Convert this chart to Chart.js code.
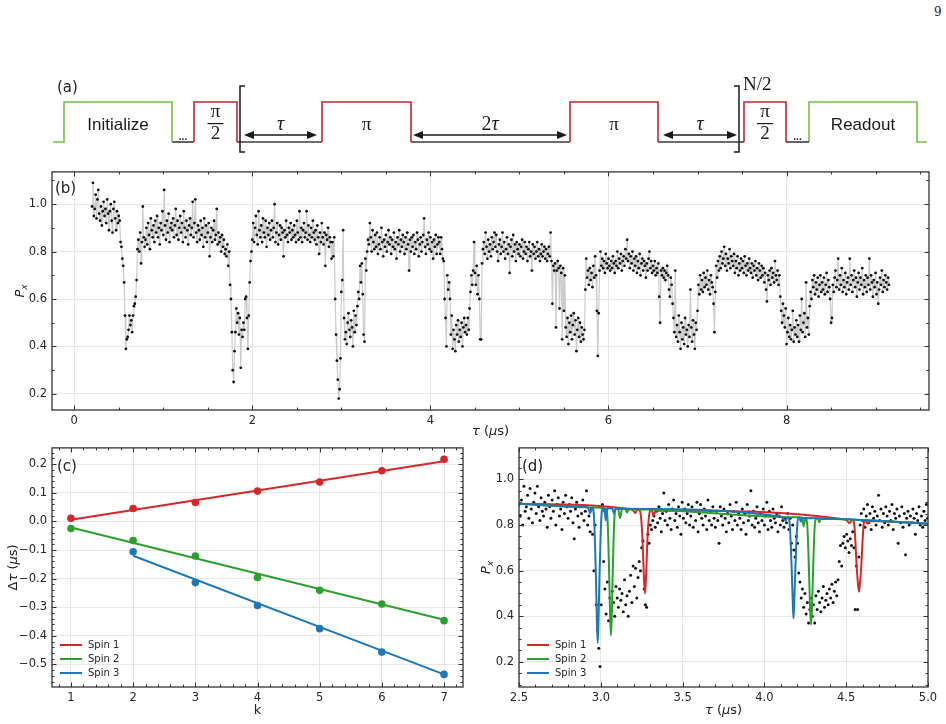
<!DOCTYPE html>
<html>
<head>
<meta charset="utf-8">
<script src="https://cdn.jsdelivr.net/npm/chart.js@4.4.1/dist/chart.umd.min.js"></script>
<style>
  body { margin: 0; background: #fff; width: 946px; height: 724px; position: relative; overflow: hidden; }
  canvas { position: absolute; }
  #pg { position: absolute; left: 934px; top: 5px; font: 12px "DejaVu Serif", serif; color: #222; }
</style>
</head>
<body>
<div id="pg">9</div>
<canvas id="seq" width="946" height="90" style="left:0;top:70px"></canvas>
<canvas id="scan" width="946" height="280" style="left:0;top:160px"></canvas>
<canvas id="shift" width="480" height="288" style="left:0;top:436px"></canvas>
<canvas id="zoomd" width="466" height="288" style="left:480px;top:436px"></canvas>
<script>
'use strict';

// (a) pulse sequence, times in the diagram's own units
var pulseNames = ['Initialize', 'π/2', 'π', 'π', 'π/2', 'Readout'];
var pulseOn = [64, 194, 322, 570, 744, 809];
var pulseOff = [172, 237, 411, 658, 786, 917];
var pulseLaser = [true, false, false, false, false, true];
var seqStart = 53, seqEnd = 927;
var gapDots = [0, 4];            // "..." after these pulses
var arrowFrom = [244, 413, 663];
var arrowTo = [317, 567, 737];
var arrowText = ['τ', '2τ', 'τ'];
var bracketAt = [240, 739];

// (b) P_x vs tau, sampled every scanStep from scanStart (values in %)
var scanStart = 0.2, scanStep = 0.01;
var scanPx = [
  99,109,95,98,104,94,102,106,96,93,99,91,97,101,95,98,92,102,96,89,
  97,100,93,88,98,101,94,89,97,92,95,93,84,82,77,74,67,53,39,43,
  44,47,53,49,51,46,53,57,58,61,68,81,85,80,88,75,84,99,86,82,
  85,90,83,92,87,81,94,89,86,91,84,93,88,95,86,90,83,92,89,97,
  87,106,91,85,93,88,96,84,90,92,89,94,86,91,98,87,93,85,90,95,
  88,92,84,97,90,86,93,89,83,91,94,87,90,101,86,92,102,88,84,91,
  89,85,93,87,90,82,94,86,91,84,88,92,78,86,90,84,89,93,85,87,
  98,83,88,84,86,80,87,82,85,79,81,78,83,74,80,66,60,46,30,25,
  38,46,56,50,54,45,52,31,47,44,50,47,60,61,52,39,53,67,76,80,
  85,92,84,90,95,87,83,97,89,86,91,84,94,88,86,93,82,90,87,92,
  85,89,93,86,90,100,84,88,92,83,87,91,85,90,88,78,89,86,93,87,
  84,90,88,92,85,89,86,91,87,84,93,88,85,97,86,90,84,89,92,86,
  88,97,85,91,87,84,90,86,93,88,85,89,83,91,86,79,88,84,92,86,
  83,88,74,87,85,90,82,86,84,77,84,78,86,60,45,34,26,18,22,35,
  63,68,89,52,43,46,41,50,54,47,44,51,48,40,55,46,53,49,57,63,
  60,74,67,75,62,45,42,77,72,80,85,83,92,86,80,89,84,81,87,82,
  88,79,83,86,81,90,84,78,85,82,87,80,84,89,83,86,79,85,82,88,
  81,84,77,86,83,89,80,85,82,87,84,79,86,81,88,83,72,85,80,86,
  82,87,79,84,81,88,85,78,83,86,80,84,87,94,82,79,85,83,88,81,
  86,80,84,77,85,82,87,79,83,86,84,79,86,81,77,76,60,52,40,70,
  64,67,60,45,53,39,47,43,38,49,45,51,42,47,44,50,40,48,52,46,
  49,45,52,47,56,63,70,66,72,84,71,66,74,62,70,60,43,43,75,81,
  84,79,88,82,77,85,80,83,78,86,81,84,88,82,87,80,76,83,85,79,
  82,88,80,84,77,81,86,79,83,71,82,85,78,87,80,83,76,84,81,79,
  83,78,82,85,77,80,84,79,82,76,81,84,78,80,72,83,79,82,77,80,
  84,78,81,76,79,83,78,80,82,77,81,76,79,82,78,88,76,58,74,72,
  75,48,72,76,73,56,74,71,43,73,55,70,48,44,52,41,50,46,53,43,
  49,54,45,51,38,47,52,44,50,42,48,45,43,47,64,77,69,72,66,73,
  68,71,65,74,69,78,70,55,36,54,72,80,74,77,73,76,71,79,75,73,
  77,74,72,76,73,78,75,71,76,74,80,73,77,75,79,72,76,78,74,81,
  77,85,76,79,73,78,75,80,72,77,74,78,71,76,73,79,70,75,77,72,
  76,74,69,75,72,77,80,73,76,71,74,72,76,70,73,71,75,61,50,72,
  70,73,69,72,68,71,74,70,64,61,69,66,58,52,46,72,44,49,42,53,
  46,39,50,43,48,41,52,45,47,40,49,44,64,48,42,51,45,39,50,47,
  55,66,62,70,64,68,63,71,65,69,66,72,64,68,62,70,67,65,58,46,
  63,74,69,76,72,78,73,80,75,77,82,74,79,72,77,75,81,73,78,76,
  74,79,71,76,73,78,70,75,72,77,73,76,71,78,74,70,75,72,77,73,
  71,75,69,74,72,76,70,73,68,75,72,69,74,70,73,67,71,64,59,70,
  68,72,66,73,69,71,67,76,70,68,72,66,70,61,55,50,58,53,48,56,
  41,46,52,44,49,43,47,55,42,48,45,51,44,49,42,53,47,60,46,50,
  54,44,67,48,52,45,57,63,60,68,65,70,62,67,64,69,61,66,70,63,
  67,64,69,62,66,71,63,68,65,60,50,52,66,63,69,72,65,68,77,64,
  70,66,73,63,68,65,71,62,67,69,64,77,66,70,63,68,72,65,69,61,
  67,71,64,69,66,73,62,68,65,70,63,69,66,77,64,70,67,61,68,65,
  71,62,67,58,64,69,66,72,63,68,65,70,67,64,69,66
];
var scanXLabels = [0, 2, 4, 6, 8];
var scanYLabels = [0.2, 0.4, 0.6, 0.8, 1.0];

// (c) shift of the k-th dip
var kValues = [1, 2, 3, 4, 5, 6, 7];
var shiftSpin1 = [0.011, 0.045, 0.066, 0.106, 0.138, 0.177, 0.217];
var shiftSpin2 = [-0.025, -0.067, -0.121, -0.196, -0.241, -0.289, -0.347];
var shiftSpin3 = [null, -0.106, -0.214, -0.294, -0.375, -0.457, -0.535];
var fitKFrom = [1, 1, 2];
var fitKTo = [7, 7, 7];
var fitFrom = [0.006, -0.021, -0.120];
var fitTo = [0.210, -0.344, -0.535];
var shiftYLabels = [-0.5, -0.4, -0.3, -0.2, -0.1, 0.0, 0.1, 0.2];

// (d) finer scan, sampled every zoomStep from zoomStart (values in %)
var zoomStart = 2.5, zoomStep = 0.0075;
var zoomPx = [
  89,84,91,80,97,86,88,93,83,96,87,81,90,94,85,97,88,82,92,86,
  84,90,87,79,93,88,83,91,86,95,80,89,92,84,87,78,90,85,93,88,
  83,89,86,92,81,74,87,90,84,79,88,85,91,82,86,95,80,84,77,87,
  76,60,80,45,34,26,18,45,89,64,52,41,55,38,48,43,51,46,40,53,
  48,44,52,47,50,42,56,45,49,40,51,58,46,62,53,61,48,57,64,60,
  70,73,52,45,44,76,72,80,78,82,84,79,86,81,88,83,77,85,94,82,
  86,80,89,83,78,87,91,82,85,79,88,84,76,90,83,87,81,85,89,80,
  84,88,79,86,82,90,77,85,89,83,80,87,84,78,91,82,86,80,88,83,
  79,86,82,72,88,84,80,87,83,77,85,81,89,84,78,86,82,90,80,85,
  83,78,87,81,85,76,89,82,84,95,80,86,79,83,88,81,77,85,82,87,
  80,84,90,78,86,82,79,87,83,81,85,77,84,80,88,82,79,83,81,85,
  78,83,72,80,69,66,75,72,59,55,48,52,44,50,41,46,37,43,48,40,
  45,37,49,43,51,46,42,48,53,44,47,50,45,52,48,54,46,51,55,49,
  56,64,71,62,72,75,70,76,73,68,74,71,77,70,43,62,43,66,80,85,
  82,87,79,84,89,81,85,78,88,83,86,80,84,93,82,87,79,85,81,88,
  84,80,86,82,89,78,85,83,87,72,84,81,88,79,85,67,83,86,80,84,
  81,87,83,76,85,82,88,80,84,79,86,82,89,83
];
// simulated responses, [tau, P_x]
var spin1Curve = [[2.50,0.893],[3.19,0.869],[3.210,0.853],[3.225,0.868],[3.240,0.860],[3.250,0.80],[3.257,0.70],
  [3.263,0.58],[3.270,0.500],[3.277,0.58],[3.283,0.70],[3.290,0.80],[3.300,0.860],[3.312,0.866],[3.322,0.840],
  [3.335,0.864],[4.50,0.823],[4.520,0.808],[4.535,0.822],[4.548,0.810],[4.556,0.73],[4.563,0.63],[4.571,0.55],
  [4.578,0.507],[4.585,0.55],[4.593,0.63],[4.600,0.73],[4.608,0.810],[4.620,0.819],[4.630,0.805],[4.645,0.818],[5.0,0.806]];
var spin2Curve = [[2.50,0.893],[2.96,0.877],[3.010,0.875],[3.020,0.858],[3.030,0.874],[3.040,0.84],[3.046,0.73],
  [3.052,0.56],[3.057,0.40],[3.062,0.316],[3.067,0.40],[3.072,0.56],[3.078,0.73],[3.084,0.84],[3.092,0.872],
  [3.105,0.872],[3.118,0.830],[3.130,0.870],[3.150,0.870],[3.160,0.855],[3.172,0.869],[4.20,0.834],[4.230,0.833],
  [4.240,0.795],[4.250,0.832],[4.262,0.80],[4.268,0.70],[4.274,0.56],[4.280,0.42],[4.285,0.364],[4.290,0.42],
  [4.296,0.56],[4.302,0.70],[4.308,0.80],[4.316,0.829],[4.326,0.829],[4.335,0.812],[4.345,0.828],[5.0,0.806]];
var spin3Curve = [[2.50,0.893],[2.88,0.880],[2.920,0.878],[2.935,0.852],[2.948,0.876],[2.958,0.84],[2.964,0.73],
  [2.970,0.58],[2.976,0.38],[2.981,0.283],[2.986,0.38],[2.992,0.58],[2.998,0.73],[3.004,0.84],[3.012,0.874],
  [3.022,0.874],[3.030,0.820],[3.040,0.873],[3.072,0.872],[3.080,0.850],[3.090,0.871],[4.10,0.837],[4.128,0.820],
  [4.145,0.835],[4.155,0.80],[4.162,0.70],[4.168,0.58],[4.174,0.45],[4.178,0.391],[4.182,0.45],[4.188,0.58],
  [4.194,0.70],[4.201,0.80],[4.208,0.832],[4.215,0.833],[4.222,0.815],[4.232,0.831],[5.0,0.806]];
var zoomXLabels = [2.5, 3.0, 3.5, 4.0, 4.5, 5.0];
var zoomYLabels = [0.2, 0.4, 0.6, 0.8, 1.0];

var spinNames = ['Spin 1', 'Spin 2', 'Spin 3'];
var spinColors = ['#d62728', '#2ca02c', '#1f77b4'];

var LASER = '#74bf44', MW = '#c3282c', BASE = '#3c3c3c', INK = '#1a1a1a';
var GRID = '#e6e6e6', FRAME = '#333333', TICKTXT = '#262626';
var TICKFONT = { family: 'DejaVu Sans', size: 11.5 };

var tauTitle = [['τ', 'i'], [' ('], ['μ', 'i'], ['s)']];
var pxTitle = [['P', 'i'], ['x', 'sub']];
var dtauTitle = [['Δ'], ['τ', 'i'], [' ('], ['μ', 'i'], ['s)']];

function isIn(v, list) {
  return list.some(function (m) { return Math.abs(m - v) < 1e-6; });
}
function fmt1(v) { return (Math.abs(v) < 1e-9 ? 0 : v).toFixed(1).replace('-', '\u2212'); }
function fmt0(v) { return String(Math.round(v)); }

function mathFont(style, size) {
  if (style === 'i') return 'italic ' + size + 'px "DejaVu Sans"';
  if (style === 'sub') return 'italic ' + Math.round(size * 0.72) + 'px "DejaVu Sans"';
  return size + 'px "DejaVu Sans"';
}
// draws mathtext-like pieces centred on x
function drawMath(ctx, parts, x, y, size) {
  var widths = [], total = 0;
  parts.forEach(function (p) {
    ctx.font = mathFont(p[1], size);
    var w = ctx.measureText(p[0]).width;
    widths.push(w); total += w;
  });
  var cx = x - total / 2;
  ctx.textAlign = 'left';
  ctx.textBaseline = 'middle';
  parts.forEach(function (p, i) {
    ctx.font = mathFont(p[1], size);
    ctx.fillText(p[0], cx, p[1] === 'sub' ? y + size * 0.3 : y);
    cx += widths[i];
  });
}
function drawMathUp(ctx, parts, x, y, size) {
  ctx.save();
  ctx.translate(x, y);
  ctx.rotate(-Math.PI / 2);
  drawMath(ctx, parts, 0, 0, size);
  ctx.restore();
}
function drawLegend(ctx, x, y, dy) {
  spinNames.forEach(function (name, i) {
    var yy = y + i * dy;
    ctx.strokeStyle = spinColors[i];
    ctx.lineWidth = 2;
    ctx.beginPath(); ctx.moveTo(x, yy); ctx.lineTo(x + 22, yy); ctx.stroke();
    ctx.fillStyle = TICKTXT;
    ctx.font = '10px "DejaVu Sans"';
    ctx.textAlign = 'left';
    ctx.textBaseline = 'middle';
    ctx.fillText(name, x + 28, yy);
  });
}

// frame on all four sides with inward major / minor ticks
function frameTicks(xMajors, yMajors) {
  return {
    id: 'frameTicks',
    afterDraw: function (chart) {
      var ctx = chart.ctx, a = chart.chartArea;
      var xs = chart.scales.x, ys = chart.scales.y;
      ctx.save();
      ctx.strokeStyle = FRAME;
      ctx.lineWidth = 1;
      ctx.beginPath();
      xs.ticks.forEach(function (t) {
        var px = Math.round(xs.getPixelForValue(t.value)) + 0.5;
        var len = isIn(t.value, xMajors) ? 4.5 : 2.5;
        ctx.moveTo(px, a.bottom); ctx.lineTo(px, a.bottom - len);
        ctx.moveTo(px, a.top); ctx.lineTo(px, a.top + len);
      });
      ys.ticks.forEach(function (t) {
        var py = Math.round(ys.getPixelForValue(t.value)) + 0.5;
        var len = isIn(t.value, yMajors) ? 4.5 : 2.5;
        ctx.moveTo(a.left, py); ctx.lineTo(a.left + len, py);
        ctx.moveTo(a.right, py); ctx.lineTo(a.right - len, py);
      });
      ctx.stroke();
      ctx.lineWidth = 1.3;
      ctx.strokeRect(a.left, a.top, a.right - a.left, a.bottom - a.top);
      ctx.restore();
    }
  };
}

function axis(min, max, step, majors, fmt, size, isX) {
  return {
    type: 'linear', min: min, max: max,
    afterFit: function (s) { if (isX) { s.height = size; } else { s.width = size; } },
    border: { display: false },
    grid: {
      drawTicks: false, lineWidth: 1,
      color: function (c) { return c.tick && isIn(c.tick.value, majors) ? GRID : 'rgba(0,0,0,0)'; }
    },
    ticks: {
      stepSize: step, includeBounds: false, autoSkip: false, maxRotation: 0,
      padding: isX ? 4 : 5, color: TICKTXT, font: TICKFONT,
      callback: function (v) { return isIn(v, majors) ? fmt(v) : ''; }
    }
  };
}

var baseOptions = function () {
  return {
    animation: false, responsive: false, devicePixelRatio: 1, events: [],
    plugins: { legend: { display: false }, tooltip: { enabled: false } }
  };
};

// ---------- (a) ----------
function seg(points, color) {
  return {
    data: points.map(function (p) { return { x: p[0], y: p[1] }; }),
    showLine: true, borderColor: color, borderWidth: 1.6, pointRadius: 0, tension: 0, fill: false
  };
}
var seqSets = [];
pulseOn.forEach(function (on, i) {
  var off = pulseOff[i];
  var pts = [[on, 0], [on, 1], [off, 1], [off, 0]];
  if (i === 0) pts.unshift([seqStart, 0]);
  if (i === pulseOn.length - 1) pts.push([seqEnd, 0]);
  seqSets.push(seg(pts, pulseLaser[i] ? LASER : MW));
  if (i < pulseOn.length - 1) seqSets.push(seg([[off, 0], [pulseOn[i + 1], 0]], BASE));
});

var seqDecor = {
  id: 'seqDecor',
  afterDatasetsDraw: function (chart) {
    var ctx = chart.ctx, xs = chart.scales.x, ys = chart.scales.y;
    var X = function (v) { return xs.getPixelForValue(v); };
    var Y = function (v) { return ys.getPixelForValue(v); };
    ctx.save();
    ctx.fillStyle = INK; ctx.strokeStyle = INK;
    ctx.textAlign = 'center'; ctx.textBaseline = 'middle';
    pulseNames.forEach(function (name, i) {
      var cx = X((pulseOn[i] + pulseOff[i]) / 2);
      if (pulseLaser[i]) {
        ctx.font = '17px "Liberation Sans"';
        ctx.fillText(name, cx, Y(0.425));
      } else if (name === 'π') {
        ctx.font = '19px "Liberation Serif"';
        ctx.fillText('π', cx, Y(0.425));
      } else {
        ctx.font = '19px "Liberation Serif"';
        ctx.fillText('π', cx, Y(0.74));
        ctx.fillText('2', cx, Y(0.19));
        ctx.lineWidth = 1.2;
        ctx.beginPath(); ctx.moveTo(cx - 8, Y(0.46)); ctx.lineTo(cx + 8, Y(0.46)); ctx.stroke();
      }
    });
    ctx.font = 'bold 10px "Liberation Sans"';
    ctx.textBaseline = 'alphabetic';
    gapDots.forEach(function (i) {
      ctx.fillText('...', X((pulseOff[i] + pulseOn[i + 1]) / 2), Y(0.06));
    });
    function head(x, y, dir) {
      ctx.beginPath(); ctx.moveTo(x, y); ctx.lineTo(x + dir * 10, y - 4); ctx.lineTo(x + dir * 10, y + 4);
      ctx.closePath(); ctx.fill();
    }
    arrowFrom.forEach(function (f, i) {
      var x1 = X(f), x2 = X(arrowTo[i]), y = Y(0.175);
      ctx.lineWidth = 1.6;
      ctx.beginPath(); ctx.moveTo(x1 + 6, y); ctx.lineTo(x2 - 6, y); ctx.stroke();
      head(x1, y, 1); head(x2, y, -1);
      var txt = arrowText[i], cx = (x1 + x2) / 2;
      ctx.textBaseline = 'middle';
      if (txt.length === 2) {
        ctx.font = '20px "Liberation Serif"';
        var w2 = ctx.measureText('2').width;
        ctx.font = 'italic 20px "Liberation Serif"';
        var wt = ctx.measureText('τ').width;
        ctx.textAlign = 'left';
        ctx.font = '20px "Liberation Serif"';
        ctx.fillText('2', cx - (w2 + wt) / 2, Y(0.44));
        ctx.font = 'italic 20px "Liberation Serif"';
        ctx.fillText('τ', cx - (w2 + wt) / 2 + w2, Y(0.44));
        ctx.textAlign = 'center';
      } else {
        ctx.font = 'italic 20px "Liberation Serif"';
        ctx.fillText(txt, cx, Y(0.44));
      }
    });
    ctx.lineWidth = 1.5;
    bracketAt.forEach(function (b, i) {
      var x = X(b), dir = i === 0 ? 1 : -1;
      ctx.beginPath();
      ctx.moveTo(x + dir * 5, Y(1.4)); ctx.lineTo(x, Y(1.4)); ctx.lineTo(x, Y(-0.25)); ctx.lineTo(x + dir * 5, Y(-0.25));
      ctx.stroke();
    });
    ctx.textAlign = 'left';
    ctx.font = '19px "Liberation Serif"';
    ctx.fillText('N/2', X(bracketAt[1] + 4), Y(1.42));
    ctx.font = '15px "DejaVu Sans"';
    ctx.fillStyle = '#222';
    ctx.fillText('(a)', 57, 18);
    ctx.restore();
  }
};

var seqOpts = baseOptions();
seqOpts.layout = { padding: 0 };
seqOpts.scales = {
  x: { type: 'linear', min: 0, max: 946, display: false },
  y: { type: 'linear', min: -0.45, max: 1.8, display: false }
};
new Chart(document.getElementById('seq'), {
  type: 'scatter', data: { datasets: seqSets }, options: seqOpts, plugins: [seqDecor]
});

// ---------- (b) ----------
var scanOpts = baseOptions();
scanOpts.layout = { padding: { left: 0, right: 17, top: 9, bottom: 0 } };
scanOpts.scales = {
  x: axis(-0.25, 9.6, 0.5, scanXLabels, fmt0, 30, true),
  y: axis(0.132, 1.136, 0.1, scanYLabels, fmt1, 52, false)
};
new Chart(document.getElementById('scan'), {
  type: 'scatter',
  data: { datasets: [{
    data: scanPx.map(function (p, i) { return { x: scanStart + i * scanStep, y: p / 100 }; }),
    showLine: true, borderColor: '#cbcbcb', borderWidth: 1.2,
    pointRadius: 1.4, pointBackgroundColor: '#111', pointBorderWidth: 0
  }] },
  options: scanOpts,
  plugins: [frameTicks(scanXLabels, scanYLabels), {
    id: 'scanText',
    afterDraw: function (chart) {
      var ctx = chart.ctx, a = chart.chartArea;
      ctx.save();
      ctx.fillStyle = '#222';
      ctx.font = '15px "DejaVu Sans"'; ctx.textAlign = 'left'; ctx.textBaseline = 'middle';
      ctx.fillText('(b)', a.left + 3, a.top + 17);
      drawMath(ctx, tauTitle, (a.left + a.right) / 2, 272, 13);
      drawMathUp(ctx, pxTitle, 21, (a.top + a.bottom) / 2, 13);
      ctx.restore();
    }
  }]
});

// ---------- (c) ----------
var shiftSets = [];
[shiftSpin1, shiftSpin2, shiftSpin3].forEach(function (vals, i) {
  shiftSets.push({
    data: kValues.map(function (k, j) { return { x: k, y: vals[j] }; }).filter(function (p) { return p.y !== null; }),
    pointRadius: 3.8, pointBackgroundColor: spinColors[i], pointBorderWidth: 0, showLine: false, order: 0
  });
  shiftSets.push({
    data: [{ x: fitKFrom[i], y: fitFrom[i] }, { x: fitKTo[i], y: fitTo[i] }],
    showLine: true, borderColor: spinColors[i], borderWidth: 2, pointRadius: 0, order: 1
  });
});
var shiftOpts = baseOptions();
shiftOpts.layout = { padding: { left: 0, right: 17, top: 10, bottom: 0 } };
shiftOpts.scales = {
  x: axis(0.695, 7.305, 0.2, kValues, fmt0, 37, true),
  y: axis(-0.579, 0.257, 0.02, shiftYLabels, fmt1, 52, false)
};
new Chart(document.getElementById('shift'), {
  type: 'scatter', data: { datasets: shiftSets }, options: shiftOpts,
  plugins: [frameTicks(kValues, shiftYLabels), {
    id: 'shiftText',
    afterDraw: function (chart) {
      var ctx = chart.ctx, a = chart.chartArea;
      ctx.save();
      ctx.fillStyle = '#222';
      ctx.font = '15px "DejaVu Sans"'; ctx.textAlign = 'left'; ctx.textBaseline = 'middle';
      ctx.fillText('(c)', a.left + 5, a.top + 19);
      ctx.font = '13px "DejaVu Sans"'; ctx.textAlign = 'center';
      ctx.fillText('k', (a.left + a.right) / 2, 275);
      drawMathUp(ctx, dtauTitle, 14, (a.top + a.bottom) / 2, 13);
      drawLegend(ctx, 60, 209, 14);
      ctx.restore();
    }
  }]
});

// ---------- (d) ----------
var zoomSets = [{
  data: zoomPx.map(function (p, i) { return { x: zoomStart + i * zoomStep, y: p / 100 }; }),
  pointRadius: 1.5, pointBackgroundColor: '#111', pointBorderWidth: 0, showLine: false, order: 10
}];
[spin1Curve, spin2Curve, spin3Curve].forEach(function (curve, i) {
  zoomSets.push({
    data: curve.map(function (p) { return { x: p[0], y: p[1] }; }),
    showLine: true, borderColor: spinColors[i], borderWidth: 2, pointRadius: 0,
    cubicInterpolationMode: 'monotone', order: 3 - i
  });
});
var zoomOpts = baseOptions();
zoomOpts.layout = { padding: { left: 0, right: 18, top: 10, bottom: 0 } };
zoomOpts.scales = {
  x: axis(2.5, 5.0, 0.1, zoomXLabels, fmt1, 37, true),
  y: axis(0.09, 1.138, 0.05, zoomYLabels, fmt1, 39, false)
};
new Chart(document.getElementById('zoomd'), {
  type: 'scatter', data: { datasets: zoomSets }, options: zoomOpts,
  plugins: [frameTicks(zoomXLabels, zoomYLabels), {
    id: 'zoomText',
    afterDraw: function (chart) {
      var ctx = chart.ctx, a = chart.chartArea;
      ctx.save();
      ctx.fillStyle = '#222';
      ctx.font = '15px "DejaVu Sans"'; ctx.textAlign = 'left'; ctx.textBaseline = 'middle';
      ctx.fillText('(d)', a.left + 3, a.top + 19);
      drawMath(ctx, tauTitle, (a.left + a.right) / 2, 275, 13);
      drawMathUp(ctx, pxTitle, 7, (a.top + a.bottom) / 2, 13);
      drawLegend(ctx, 47, 209, 14);
      ctx.restore();
    }
  }]
});
</script>
</body>
</html>
